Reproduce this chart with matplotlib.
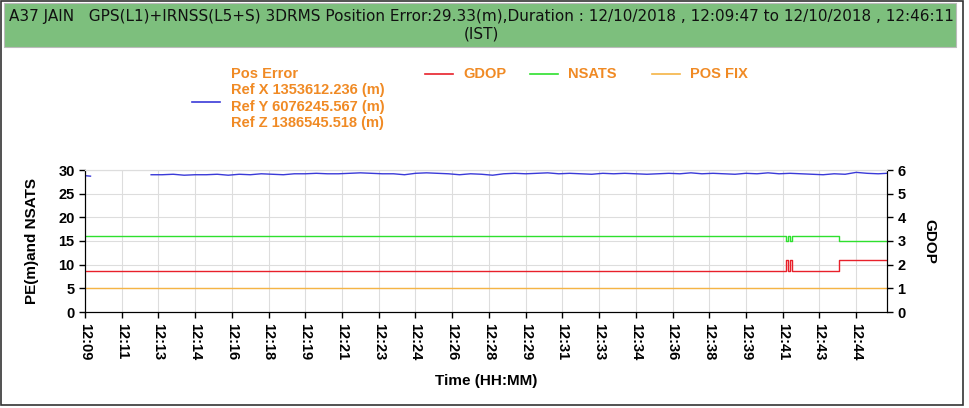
#!/usr/bin/env python3

import numpy as np
import matplotlib.pyplot as plt
from matplotlib.lines import Line2D
from matplotlib.patches import Rectangle
from matplotlib.ticker import FuncFormatter, MultipleLocator

plt.rcParams["font.family"] = ["Liberation Sans", "DejaVu Sans"]

inicio = 12 * 3600 + 9 * 60 + 47  # 12:09:47
duracion = 2184  # hasta 12:46:11

# error de posicion (m); hueco al principio donde va el logo
t_pe = [0, 15, 25] + list(range(180, 2190, 30)) + [2184]
pos_error = [28.8, 28.7, np.nan, 29.0,
             29.0, 29.1, 28.9,
             29.0, 29.0, 29.1, 28.9, 29.1, 29.0, 29.2, 29.1, 29.0, 29.2,
             29.2, 29.3, 29.2, 29.2, 29.3, 29.4, 29.3, 29.2, 29.2, 29.0,
             29.3, 29.4, 29.3, 29.2, 29.0, 29.2, 29.1, 28.9, 29.2, 29.3,
             29.2, 29.3, 29.4, 29.2, 29.3, 29.2, 29.1, 29.3, 29.2, 29.3,
             29.2, 29.1, 29.2, 29.3, 29.2, 29.4, 29.2, 29.3, 29.2, 29.1,
             29.3, 29.2, 29.4, 29.2, 29.3, 29.2, 29.1, 29.0, 29.2, 29.1,
             29.5, 29.3, 29.2, 29.3]

# GDOP y NSATS como escalones
t_esc = [0, 1910, 1915, 1921, 1926, 2052, 2184]
gdop = [1.74, 2.2, 1.74, 2.2, 1.74, 2.2, 2.2]
nsats = [16, 15, 16, 15, 16, 15, 15]
pos_fix = [5, 5]
t_fix = [0, duracion]

titulo = ("A37 JAIN   GPS(L1)+IRNSS(L5+S) 3DRMS Position Error:29.33(m),Duration : "
          "12/10/2018 , 12:09:47 to 12/10/2018 , 12:46:11\n(IST)")
texto_pe = ("Pos Error\nRef X 1353612.236 (m)\nRef Y 6076245.567 (m)\n"
            "Ref Z 1386545.518 (m)")

AZUL = "#3a3ad8"
ROJO = "#e8202a"
VERDE = "#2ee02e"
NARANJA = "#f5b445"
TXT_NAR = "#f08a24"


def hhmm(x, pos):
    s = int(round(inicio + x))
    return f"{s // 3600:02d}:{(s % 3600) // 60:02d}"


fig = plt.figure(figsize=(9.69, 4.08), dpi=100)

# marco exterior y banda de titulo
fig.patches.append(Rectangle((1 / 969, 3 / 408), 962 / 969, 404 / 408,
                             transform=fig.transFigure, fill=False,
                             edgecolor="#333333", linewidth=1.2))
fig.patches.append(Rectangle((4 / 969, 361 / 408), 952 / 969, 44 / 408,
                             transform=fig.transFigure, facecolor="#7dbf7d",
                             edgecolor="#bbbbbb", linewidth=0.8))
fig.text(481 / 969, 383 / 408, titulo, ha="center", va="center",
         fontsize=11, family=["Liberation Sans Narrow", "DejaVu Sans"],
         color="#111111", linespacing=1.25)

ax = fig.add_axes([85 / 969, 96 / 408, 802 / 969, 142 / 408])
ax2 = ax.twinx()

ax.plot(t_pe, pos_error, color=AZUL, linewidth=1)
ax.step(t_esc, nsats, where="post", color=VERDE, linewidth=1)
ax.plot(t_fix, pos_fix, color=NARANJA, linewidth=1)
ax2.step(t_esc, gdop, where="post", color=ROJO, linewidth=1)

ax.set_xlim(0, duracion)
ax.set_ylim(0, 30)
ax2.set_ylim(0, 6)
ax.xaxis.set_major_locator(MultipleLocator(100))
ax.xaxis.set_major_formatter(FuncFormatter(hhmm))
ax.yaxis.set_major_locator(MultipleLocator(5))
ax2.yaxis.set_major_locator(MultipleLocator(1))

ax.grid(True, color="#dddddd", linewidth=0.8)
ax.set_axisbelow(True)
for a in (ax, ax2):
    a.spines["top"].set_color("#dddddd")
    a.tick_params(labelsize=10.5, width=1, length=4)
    for lab in a.get_yticklabels():
        lab.set_fontweight("bold")
for lab in ax.get_xticklabels():
    lab.set_fontweight("bold")
    lab.set_rotation(-90)
ax.tick_params(axis="x", pad=4)

ax.set_ylabel("PE(m)and NSATS", fontsize=11, fontweight="bold", labelpad=14)
ax2.set_ylabel("GDOP", fontsize=11, fontweight="bold", rotation=270, labelpad=22)
ax.set_xlabel("Time (HH:MM)", fontsize=11, fontweight="bold", labelpad=10)

# leyenda dibujada a mano
fig.add_artist(Line2D([192 / 969, 220 / 969], [306 / 408, 306 / 408], color=AZUL, linewidth=1.2))
fig.text(231 / 969, 341 / 408, texto_pe, ha="left", va="top", fontsize=10.5,
         color=TXT_NAR, fontweight="bold", linespacing=1.22)
for x0, col, nombre in [(425, ROJO, "GDOP"), (530, VERDE, "NSATS"), (652, NARANJA, "POS FIX")]:
    fig.add_artist(Line2D([x0 / 969, (x0 + 28) / 969], [334 / 408, 334 / 408], color=col, linewidth=1.2))
    fig.text((x0 + 38) / 969, 334 / 408, nombre, ha="left", va="center", fontsize=10.5,
             color=TXT_NAR, fontweight="bold")

fig.savefig("out.png", dpi=100)
